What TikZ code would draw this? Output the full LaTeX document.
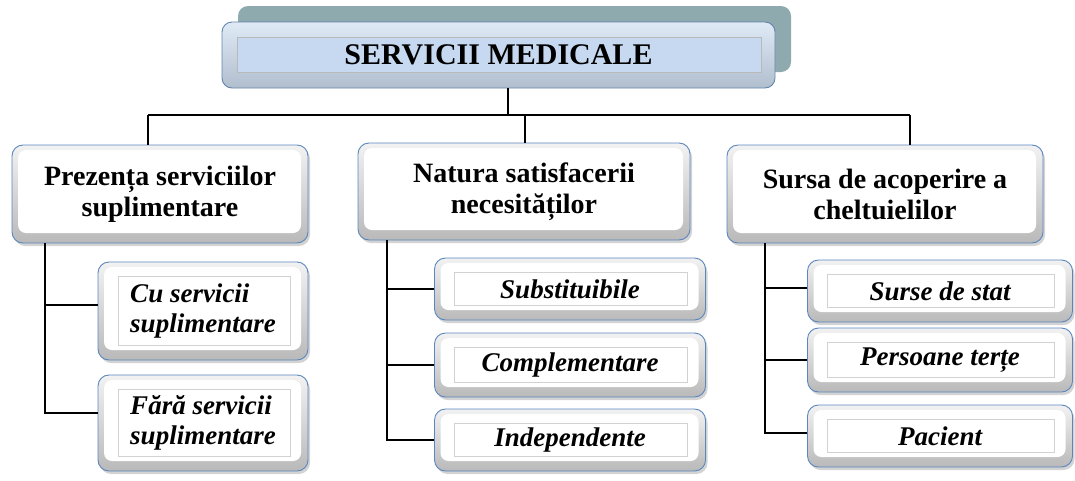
\documentclass[tikz,border=0pt]{standalone}
\usepackage{fontspec}
\setmainfont{Liberation Serif}
\usetikzlibrary{positioning,shadows}

\definecolor{rimblue}{HTML}{5A86BE}
\definecolor{paleblue}{HTML}{C6D9F0}
\definecolor{backteal}{HTML}{8EAAAE}

\begin{document}
\begin{tikzpicture}[x=1pt, y=-1pt,
    conn/.style={line width=1.4pt},
    boxfont/.style={font=\fontsize{28}{31}\selectfont\bfseries},
    leaffont/.style={font=\fontsize{27}{30}\selectfont\bfseries\itshape},
    bevel/.style={path picture={
        \fill[white, rounded corners=8pt]
          ([shift={(6pt,-5pt)}]path picture bounding box.north west) rectangle
          ([shift={(-7pt,10pt)}]path picture bounding box.south east);}},
    catbox/.style={draw=rimblue, line width=0.9pt, rounded corners=11pt,
        top color=gray!10, bottom color=gray!55, bevel, boxfont, align=center,
        inner sep=0pt,
        drop shadow={shadow xshift=2pt, shadow yshift=-3pt, opacity=.35, fill=gray}},
    leafbox/.style={draw=rimblue, line width=0.9pt, rounded corners=11pt,
        top color=gray!10, bottom color=gray!55, leaffont, inner sep=0pt,
        drop shadow={shadow xshift=2pt, shadow yshift=-3pt, opacity=.35, fill=gray},
        path picture={
        \fill[white, rounded corners=8pt]
          ([shift={(6pt,-5pt)}]path picture bounding box.north west) rectangle
          ([shift={(-7pt,10pt)}]path picture bounding box.south east);
        \draw[gray!35, line width=0.7pt, sharp corners]
          ([shift={(20pt,-14pt)}]path picture bounding box.north west) rectangle
          ([shift={(-18pt,15pt)}]path picture bounding box.south east);}},
    topbox/.style={draw=rimblue!70!gray, line width=0.9pt, rounded corners=10pt,
        top color=paleblue!55!white, bottom color=paleblue!70!gray,
        inner sep=0pt, font=\fontsize{30}{34}\selectfont\bfseries,
        drop shadow={shadow xshift=16pt, shadow yshift=16pt, opacity=1, fill=backteal},
        path picture={
        \fill[paleblue, draw=gray!55, line width=0.7pt, sharp corners]
          ([shift={(15pt,-15pt)}]path picture bounding box.north west) rectangle
          ([shift={(-14pt,16pt)}]path picture bounding box.south east);}}]

  \useasboundingbox (0,0) rectangle (1075,480);

  % top of the tree
  \node[topbox, minimum width=553, minimum height=66] (top) at (498.5,55) {SERVICII MEDICALE};

  % criteria
  \node[catbox, minimum width=296, minimum height=98] (prez) at (160,194) {Prezența serviciilor\\suplimentare};
  \node[catbox, minimum width=332, minimum height=97] (nat) at (524,191.5) {Natura satisfacerii\\necesităților};
  \node[catbox, minimum width=316, minimum height=98] (sursa) at (885,194) {Sursa de acoperire a\\cheltuielilor};

  % types
  \node[leafbox, align=left, minimum width=210, minimum height=98] (cu) at (203,311) {Cu servicii\\suplimentare};
  \node[leafbox, align=left, minimum width=210, minimum height=96] (fara) at (203,423) {Fără servicii\\suplimentare};

  \node[leafbox, minimum width=271, minimum height=62] (subst) at (570,289) {Substituibile};
  \node[leafbox, minimum width=271, minimum height=64] (compl) at (570,365) {Complementare};
  \node[leafbox, minimum width=271, minimum height=62] (indep) at (570,440) {Independente};

  \node[leafbox, minimum width=265, minimum height=62] (stat) at (940,291) {Surse de stat};
  \node[leafbox, minimum width=265, minimum height=64] (terte) at (940,360) {Persoane terțe};
  \node[leafbox, minimum width=265, minimum height=62] (pac) at (940,436) {Pacient};

  % connectors
  \coordinate (bus) at (508,115);
  \coordinate (busL) at (148,115);
  \coordinate (busM) at (525,115);
  \coordinate (busR) at (910,115);
  \draw[conn] (top.south -| bus) -- (bus);
  \draw[conn] (busL) -- (busR);
  \draw[conn] (busL) -- (busL |- prez.north);
  \draw[conn] (busM) -- (busM |- nat.north);
  \draw[conn] (busR) -- (busR |- sursa.north);

  \coordinate (trL) at (45,0);
  \coordinate (trM) at (387,0);
  \coordinate (trR) at (765,0);
  \draw[conn] (prez.south -| trL) |- ([yshift=10pt]fara.west);
  \draw[conn] ([yshift=6pt]cu.west) -- ([yshift=6pt]cu.west -| trL);
  \draw[conn] (nat.south -| trM) |- (indep.west);
  \draw[conn] (subst.west) -- (subst.west -| trM);
  \draw[conn] (compl.west) -- (compl.west -| trM);
  \draw[conn] (sursa.south -| trR) |- ([yshift=3pt]pac.west);
  \draw[conn] ([yshift=3pt]stat.west) -- ([yshift=3pt]stat.west -| trR);
  \draw[conn] (terte.west) -- (terte.west -| trR);
\end{tikzpicture}
\end{document}
